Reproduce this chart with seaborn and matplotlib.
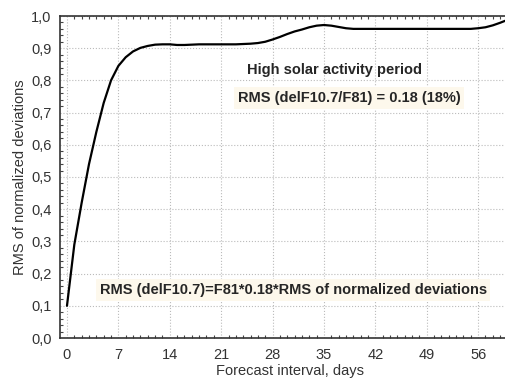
import numpy as np
import pandas as pd
import matplotlib
matplotlib.use('Agg')
import matplotlib.pyplot as plt
import seaborn as sns
from matplotlib.ticker import MultipleLocator, FuncFormatter

# RMS of normalized deviations vs forecast interval
days = list(range(0, 61))
rms = [0.10, 0.29, 0.42, 0.54, 0.64, 0.73, 0.80, 0.845, 0.872, 0.89,
       0.901, 0.907, 0.911, 0.912, 0.912, 0.910, 0.910, 0.911, 0.912, 0.912,
       0.912, 0.912, 0.912, 0.912, 0.913, 0.914, 0.916, 0.920, 0.927, 0.935,
       0.944, 0.952, 0.958, 0.965, 0.970, 0.972, 0.970, 0.966, 0.962, 0.960,
       0.960, 0.960, 0.960, 0.960, 0.960, 0.960, 0.960, 0.960, 0.960, 0.960,
       0.960, 0.960, 0.960, 0.960, 0.960, 0.960, 0.962, 0.965, 0.971, 0.979,
       0.988]
x_ticks = [0, 7, 14, 21, 28, 35, 42, 49, 56]
y_ticks = [0.0, 0.1, 0.2, 0.3, 0.4, 0.5, 0.6, 0.7, 0.8, 0.9, 1.0]

df = pd.DataFrame({'days': days, 'rms': rms})

sns.set_style('white')
plt.rcParams['font.family'] = ['Liberation Sans', 'DejaVu Sans']

fig = plt.figure(figsize=(5.06, 3.83), dpi=100)
ax = fig.add_axes([60 / 506, 45 / 383, 460 / 506, 322 / 383])

sns.lineplot(data=df, x='days', y='rms', color='black', lw=1.6, ax=ax)

ax.set_xlim(-0.95, 61.7)
ax.set_ylim(0, 1.0)
ax.set_xticks(x_ticks)
ax.set_yticks(y_ticks)
ax.xaxis.set_minor_locator(MultipleLocator(1))
ax.yaxis.set_minor_locator(MultipleLocator(0.02))
ax.yaxis.set_major_formatter(FuncFormatter(lambda v, p: f'{v:.1f}'.replace('.', ',')))
ax.tick_params(which='both', direction='in', top=True, left=True, bottom=True,
               labelsize=10.5, colors='#333333')
ax.tick_params(axis='x', which='major', length=0, pad=7)
ax.tick_params(axis='y', which='major', length=0, pad=6)
ax.tick_params(which='minor', length=2.5, width=0.8, color='#444444')
ax.grid(True, which='major', ls=':', color='#bbbbbb', lw=0.8)
for side in ['left', 'bottom', 'top']:
    ax.spines[side].set_color('#333333')
    ax.spines[side].set_linewidth(1.2)

ax.set_xlabel('Forecast interval, days', fontsize=10.5, color='#333333', labelpad=2)
ax.set_ylabel('RMS of normalized deviations', fontsize=10.5, color='#333333', labelpad=3)

ax.text(36.5, 0.832, 'High solar activity period', fontsize=10.5, fontweight='bold',
        ha='center', va='center')
ax.text(38.4, 0.745, 'RMS (delF10.7/F81) = 0.18 (18%)', fontsize=10.5, fontweight='bold',
        ha='center', va='center',
        bbox=dict(boxstyle='square,pad=0.25', fc='#fdf8ec', ec='none'))
ax.text(30.8, 0.149, 'RMS (delF10.7)=F81*0.18*RMS of normalized deviations', fontsize=10.5,
        fontweight='bold', ha='center', va='center',
        bbox=dict(boxstyle='square,pad=0.25', fc='#fdf8ec', ec='none'))

fig.savefig('out.png', dpi=100)
